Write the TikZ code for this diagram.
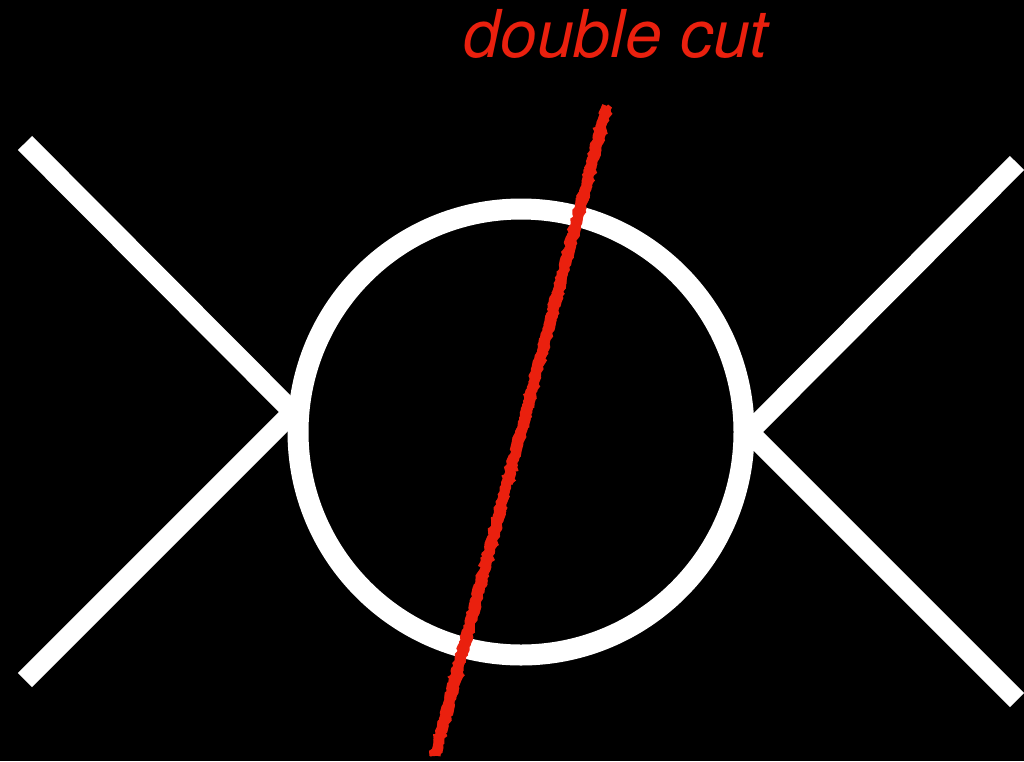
\documentclass[tikz,border=0pt]{standalone}
\usepackage{fontspec}
\setmainfont{TeX Gyre Heros}
\usetikzlibrary{decorations.pathmorphing}
\definecolor{cutred}{RGB}{234,32,14}
\tikzset{
  leg/.style={white, line width=20pt},
  cutline/.style={cutred, line width=#1, decorate,
    decoration={random steps, segment length=3pt, amplitude=1.5pt}},
}
\begin{document}
\begin{tikzpicture}[x=1pt, y=-1pt]
  \fill[black] (0,0) rectangle (1024,761);
  \useasboundingbox (0,0) rectangle (1024,761);
  % loop and vertices
  \node[circle, draw=white, line width=21pt, minimum size=446pt, inner sep=0pt] (loop) at (521,432) {};
  \coordinate (vl) at (293,412);
  \coordinate (vr) at (749,432);
  % external legs
  \coordinate (a) at (25,143);
  \coordinate (b) at (25,680);
  \coordinate (c) at (1017,163);
  \coordinate (d) at (1017,700);
  \draw[leg] (a) -- (vl);
  \draw[leg] (b) -- (vl);
  \draw[leg] (c) -- (vr);
  \draw[leg] (d) -- (vr);
  % the cut
  \coordinate (ctop) at (607,106);
  \coordinate (cbot) at (435,756);
  \draw[cutline=10pt] (ctop) -- (cbot);
  \draw[cutline=5pt] ([xshift=-3pt]ctop) -- ([xshift=-3pt]cbot);
  \draw[cutline=5pt] ([xshift=3pt]ctop) -- ([xshift=3pt]cbot);
  \node[cutred, anchor=base, inner sep=0pt, font=\fontsize{66}{72}\selectfont\itshape] (label) at (616,57) {double cut};
\end{tikzpicture}
\end{document}
